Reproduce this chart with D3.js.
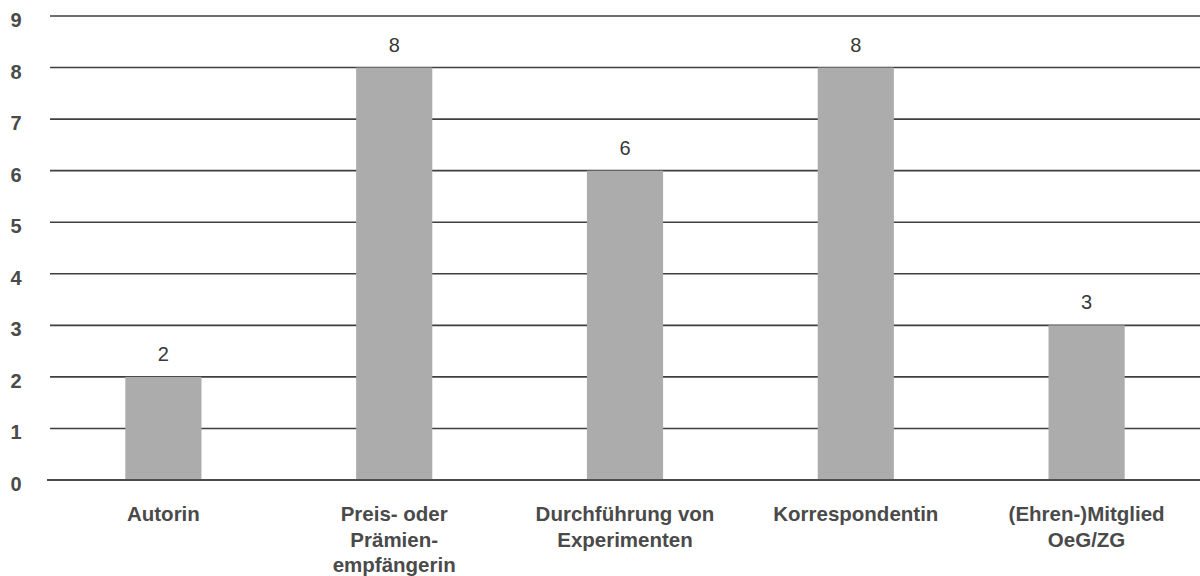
<!DOCTYPE html>
<html><head><meta charset="utf-8">
<script src="https://cdn.jsdelivr.net/npm/d3@7"></script>
<style>
html,body{margin:0;padding:0;background:#fff;}
svg text{font-family:"Liberation Sans",Arial,Helvetica,sans-serif;}
</style></head>
<body><svg id="chart" width="1200" height="576"></svg>
<script>
const categories = [
  ["Autorin"],
  ["Preis- oder","Prämien-","empfängerin"],
  ["Durchführung von","Experimenten"],
  ["Korrespondentin"],
  ["(Ehren-)Mitglied","OeG/ZG"]
];
const values = [2, 8, 6, 8, 3];
const yTicks = [0,1,2,3,4,5,6,7,8,9];

const svg = d3.select("#chart");
const x = d3.scaleBand().domain(d3.range(categories.length)).range([48, 1202]).paddingInner(0.67).paddingOuter(0.335);
const y = d3.scaleLinear().domain([0, 9]).range([480, 16]);

// gridlines
svg.append("g").selectAll("line").data(yTicks).join("line")
  .attr("x1", d => d === 0 ? 47 : 50).attr("x2", 1200)
  .attr("y1", d => y(d)).attr("y2", d => y(d))
  .attr("stroke", "#3f3f3f").attr("stroke-width", 1.6);

// y tick labels
svg.append("g").selectAll("text").data(yTicks).join("text")
  .attr("x", 16).attr("y", d => y(d) + 11)
  .attr("text-anchor", "middle").attr("font-size", 20).attr("font-weight", "bold")
  .attr("fill", "#4a4a4a").text(d => d);

// bars
svg.append("g").selectAll("rect").data(values).join("rect")
  .attr("x", (d,i) => x(i)).attr("width", x.bandwidth())
  .attr("y", d => y(d)).attr("height", d => y(0) - y(d) - 0.8)
  .attr("fill", "#acacac");

// redraw baseline on top
svg.append("line").attr("x1", 47).attr("x2", 1200).attr("y1", y(0)).attr("y2", y(0))
  .attr("stroke", "#3f3f3f").attr("stroke-width", 1.6);

// value labels
svg.append("g").selectAll("text").data(values).join("text")
  .attr("x", (d,i) => x(i) + x.bandwidth()/2).attr("y", d => y(d) - 16)
  .attr("text-anchor", "middle").attr("font-size", 20)
  .attr("fill", "#383838").text(d => d);

// category labels
const cat = svg.append("g").selectAll("text").data(categories).join("text")
  .attr("x", (d,i) => x(i) + x.bandwidth()/2).attr("y", 521)
  .attr("text-anchor", "middle").attr("font-size", 20.5).attr("font-weight", "bold")
  .attr("fill", "#4a4a4a");
cat.selectAll("tspan").data(d => d).join("tspan")
  .attr("x", function(){ return this.parentNode.getAttribute("x"); })
  .attr("dy", (d,i) => i === 0 ? 0 : 25.5)
  .text(d => d);
</script></body></html>
